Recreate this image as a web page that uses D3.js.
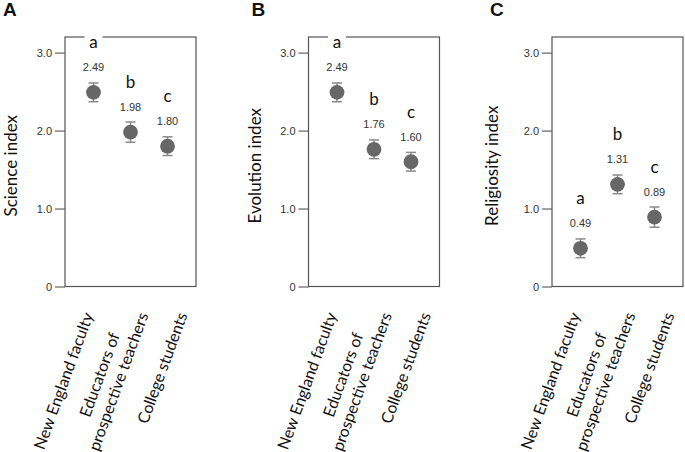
<!DOCTYPE html>
<html><head><meta charset="utf-8">
<script src="https://cdn.jsdelivr.net/npm/d3@7"></script>
<style>body{margin:0;background:#fff}</style>
</head><body>
<script>
// ---- data ----
const panels = ["A", "B", "C"];
const axisTitles = ["Science index", "Evolution index", "Religiosity index"];
const categories = ["New England faculty", "Educators of\nprospective teachers", "College students"];
const scienceMeans = [2.49, 1.98, 1.80];
const scienceErr = [0.12, 0.13, 0.12];
const scienceGroups = ["a", "b", "c"];
const evolutionMeans = [2.49, 1.76, 1.60];
const evolutionErr = [0.12, 0.12, 0.12];
const evolutionGroups = ["a", "b", "c"];
const religiosityMeans = [0.49, 1.31, 0.89];
const religiosityErr = [0.12, 0.12, 0.13];
const religiosityGroups = ["a", "b", "c"];
const yTicks = [0, 1, 2, 3];
const yTickLabels = ["0", "1.0", "2.0", "3.0"];

const series = [
  {means: scienceMeans, err: scienceErr, groups: scienceGroups},
  {means: evolutionMeans, err: evolutionErr, groups: evolutionGroups},
  {means: religiosityMeans, err: religiosityErr, groups: religiosityGroups}
];

// ---- layout ----
const W = 685, H = 452;
const frameW = 131, frameTop = 37, frameBottom = 286.5;
const svg = d3.select("body").append("svg").attr("width", W).attr("height", H)
  .style("font-family", "Lato, 'Open Sans', sans-serif");

const panelX = d3.scalePoint().domain(panels).range([65, 552]);
const y = d3.scaleLinear().domain([0, 3.2]).range([frameBottom, frameTop]);
const x = d3.scalePoint().domain(categories).range([0, frameW]).padding(0.77);
const labelShift = [0, 18, 20];
const tickFmt = d3.scaleOrdinal().domain(yTicks).range(yTickLabels);

panels.forEach((p, pi) => {
  const g = svg.append("g").attr("transform", `translate(${panelX(p)},0)`);
  const s = series[pi];

  // panel letter
  g.append("text").attr("x", pi === 1 ? -57 : -62).attr("y", 16)
    .attr("font-family", "'Liberation Sans', Arial, sans-serif")
    .attr("font-weight", "bold").attr("font-size", 19).attr("fill", "#111").text(p);

  // axis title
  g.append("text")
    .attr("transform", `translate(${pi === 2 ? -54 : -48},${(frameTop + frameBottom) / 2 + 4}) rotate(-90)`)
    .attr("text-anchor", "middle").attr("font-size", 17).attr("fill", "#111")
    .text(axisTitles[pi]);

  // y axis ticks
  const ax = g.append("g").call(d3.axisLeft(y).tickValues(yTicks).tickSize(10).tickPadding(3)
    .tickFormat(d => tickFmt(d)));
  ax.select(".domain").remove();
  ax.selectAll(".tick line").attr("stroke", "#555").attr("stroke-width", 1.1);
  ax.selectAll(".tick text").attr("font-family", "'Liberation Sans', Arial, sans-serif")
    .attr("font-size", 11).attr("fill", "#333");

  // frame
  g.append("rect").attr("x", 0).attr("y", frameTop).attr("width", frameW)
    .attr("height", frameBottom - frameTop).attr("fill", "none")
    .attr("stroke", "#555").attr("stroke-width", 1.2);

  // error bars
  const eb = g.selectAll(".eb").data(categories).enter().append("g");
  eb.append("line").attr("x1", d => x(d)).attr("x2", d => x(d))
    .attr("y1", (d, i) => y(s.means[i] + s.err[i])).attr("y2", (d, i) => y(s.means[i] - s.err[i]))
    .attr("stroke", "#8a8a8a").attr("stroke-width", 1.5);
  [1, -1].forEach(sign => {
    eb.append("line").attr("x1", d => x(d) - 5).attr("x2", d => x(d) + 5)
      .attr("y1", (d, i) => y(s.means[i] + sign * s.err[i])).attr("y2", (d, i) => y(s.means[i] + sign * s.err[i]))
      .attr("stroke", "#8a8a8a").attr("stroke-width", 1.5);
  });

  // points
  g.selectAll(".pt").data(categories).enter().append("circle")
    .attr("cx", d => x(d)).attr("cy", (d, i) => y(s.means[i])).attr("r", 7.4)
    .attr("fill", "#676767");

  // value labels
  g.selectAll(".vl").data(categories).enter().append("text")
    .attr("x", d => x(d)).attr("y", (d, i) => y(s.means[i]) - 21)
    .attr("text-anchor", "middle").attr("font-family", "'Liberation Sans', Arial, sans-serif")
    .attr("font-size", 11).attr("fill", "#333").text((d, i) => s.means[i].toFixed(2));

  // group letters with white backing
  g.selectAll(".bg").data(categories).enter().append("rect")
    .attr("x", d => x(d) - 9).attr("y", (d, i) => y(s.means[i]) - 58)
    .attr("width", 18).attr("height", 18).attr("fill", "#fff");
  g.selectAll(".gl").data(categories).enter().append("text")
    .attr("x", d => x(d)).attr("y", (d, i) => y(s.means[i]) - 44)
    .attr("text-anchor", "middle").attr("font-size", 17).attr("fill", "#111")
    .text((d, i) => s.groups[i]);

  // category labels
  categories.forEach((c, ci) => {
    const lines = c.split("\n");
    const lg = g.append("g")
      .attr("transform", `translate(${x(c) + labelShift[ci]},315) rotate(-70)`);
    const ts = lines.map((ln, li) => lg.append("text")
      .attr("y", (li - (lines.length - 1)) * 20)
      .attr("text-anchor", "middle").attr("font-size", 16).attr("fill", "#111").text(ln));
    const L = d3.max(ts, t => t.node().getComputedTextLength());
    ts.forEach(t => t.attr("x", -L / 2));
  });
});
</script>
</body></html>
